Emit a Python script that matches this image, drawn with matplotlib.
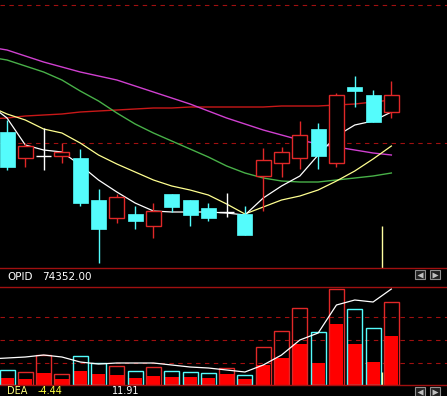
import matplotlib.pyplot as plt
from matplotlib.lines import Line2D
from matplotlib.patches import Rectangle
import numpy as np

#%% Candle data (22 bars)
opens  = [3868, 3855, 3856, 3856, 3855, 3834, 3825, 3827, 3821, 3837, 3834,
          3830, 3828, 3827, 3846, 3852.5, 3855, 3869.5, 3852.5, 3890.5, 3886.5, 3878]
closes = [3850.5, 3861, 3856, 3858, 3832.5, 3819.5, 3835.5, 3823.5, 3828.5, 3830.5, 3826.5,
          3825, 3828, 3816.5, 3854, 3858, 3866.5, 3856, 3886.5, 3888.5, 3873, 3886.5]
highs  = [3874, 3862.5, 3870, 3862.5, 3859.5, 3839.5, 3837, 3831, 3832.5, 3837, 3834,
          3832.5, 3837.5, 3831, 3860, 3860.5, 3873.5, 3872.5, 3887.5, 3896, 3889, 3893.5]
lows   = [3849, 3850.5, 3849, 3852.5, 3831, 3802.5, 3822.5, 3819.5, 3815, 3828, 3821,
          3823.5, 3825.5, 3816.5, 3828.5, 3845.5, 3849.5, 3849.5, 3850.5, 3880.5, 3873, 3875]

# moving averages (first value = bar before the visible window)
ma_white   = [3882, 3875, 3861.5, 3859, 3858, 3851.5, 3844, 3838, 3832.5, 3828.5, 3828, 3828,
              3828, 3827.5, 3826.5, 3835, 3841, 3846, 3856.5, 3866, 3871.5, 3873.5, 3878]
ma_yellow  = [3881, 3877, 3874, 3869.5, 3867.5, 3862.5, 3856.5, 3852, 3848, 3844, 3841, 3839,
              3836.5, 3832, 3827, 3830.5, 3834, 3836, 3839, 3843.5, 3848.5, 3854.5, 3861]
ma_green   = [3905.5, 3904, 3901, 3898, 3894, 3888.5, 3883.5, 3877.5, 3872, 3867.5, 3863.5, 3859.5,
              3855.5, 3851, 3847.5, 3845, 3843.5, 3843, 3843, 3844, 3845, 3846, 3847.5]
ma_magenta = [3910.5, 3909, 3906, 3903, 3900.5, 3898, 3896, 3894, 3891, 3888, 3885, 3882,
              3878.5, 3875, 3872, 3869, 3866.5, 3864, 3862, 3860.5, 3859, 3857.5, 3856.5]
ma_red     = [3874.5, 3875, 3876, 3876.5, 3877, 3878, 3878.5, 3879, 3879.5, 3880, 3880, 3880.5,
              3880.5, 3880.5, 3880.5, 3880.5, 3881, 3881, 3881, 3881.5, 3882, 3883, 3884]

#%% Volume data
vol     = [1500, 1300, 3000, 1100, 2900, 2200, 1900, 1400, 1800, 1400, 1300,
           1200, 1700, 1000, 3800, 5400, 7700, 5300, 9600, 7600, 5700, 8300]
vol_in  = [700, 600, 1200, 600, 1400, 1100, 1000, 700, 900, 800, 800,
           700, 1100, 600, 2000, 2700, 4100, 2200, 6100, 4100, 2300, 4900]
mavol   = [2600, 2700, 2800, 3000, 2800, 2300, 2100, 2200, 2200, 2200, 2000, 1800,
           1700, 1500, 1300, 2000, 3000, 4500, 5200, 8000, 8500, 8300, 9600]

opid = '74352.00'
dea_vals = ['-4.44', '11.91']

#%% Colours
BG = 'black'
UP = '#e02828'
DOWN = '#54fcfc'
GRID = '#a01010'

W, H = 447, 396
fig = plt.figure(figsize=(W / 100, H / 100), dpi=100, facecolor=BG)

def fy(ypix):
    return 1 - ypix / H

ax = fig.add_axes([0, fy(268), 1, 268 / H])
vax = fig.add_axes([0, fy(385), 1, (385 - 287) / H])
for a in (ax, vax):
    a.set_facecolor(BG)
    a.set_axis_off()
    a.set_xlim(-0.383, 24.04)

ax.set_ylim(3800, 3934)
vax.set_ylim(0, 9800)

n = len(opens)
x = np.arange(n)
xm = np.arange(-1, n)
bw = 0.82

#%% grid lines
for yv in (3931.5, 3862.5):
    ax.axhline(yv, color=GRID, lw=0.8, ls=(0, (4, 4)), zorder=0)
for yv in (6800, 4500, 2200):
    vax.axhline(yv, color=GRID, lw=0.8, ls=(0, (4, 4)), zorder=0)

#%% moving averages
ax.plot(xm, ma_red, color='#c81818', lw=1, zorder=1)
ax.plot(xm, ma_magenta, color='#d040d0', lw=1, zorder=1)
ax.plot(xm, ma_green, color='#48b048', lw=1, zorder=1)
ax.plot(xm, ma_yellow, color='#ffff90', lw=0.9, zorder=1)
ax.plot(xm, ma_white, color='white', lw=0.9, zorder=1)

#%% candles
for i in range(n):
    o, c, h, l = opens[i], closes[i], highs[i], lows[i]
    if c > o:
        ax.vlines(i, c, h, color=UP, lw=1, zorder=2)
        ax.vlines(i, l, o, color=UP, lw=1, zorder=2)
        ax.add_patch(Rectangle((i - bw / 2, o), bw, c - o, facecolor=BG,
                               edgecolor=UP, lw=1, zorder=3))
    elif c < o:
        ax.vlines(i, l, h, color=DOWN, lw=1, zorder=2)
        ax.add_patch(Rectangle((i - bw / 2, c), bw, o - c, facecolor=DOWN,
                               edgecolor=DOWN, lw=0.5, zorder=3))
    else:
        ax.vlines(i, l, h, color='white', lw=1, zorder=2)
        ax.hlines(o, i - bw / 2, i + bw / 2, color='white', lw=1, zorder=2)

# cursor line
ax.vlines(20.5, 3800, 3821, color='#ffffa0', lw=1, zorder=4)
vax.vlines(20.5, 0, 1300, color='#ffffa0', lw=1, zorder=4)

#%% volume
for i in range(n):
    col = UP if closes[i] >= opens[i] else DOWN
    vax.add_patch(Rectangle((i - bw / 2, 0), bw, vol[i], facecolor='none',
                            edgecolor=col, lw=1, zorder=2))
    vax.add_patch(Rectangle((i - bw / 2 + 0.03, 0), bw - 0.06, vol_in[i],
                            facecolor='#ff0000', edgecolor='none', zorder=1))
vax.plot(xm, mavol, color='white', lw=0.9, zorder=3)

#%% panel borders
for yp in (268, 287, 385):
    fig.add_artist(Line2D([0, 1], [fy(yp), fy(yp)], color=GRID, lw=1,
                          transform=fig.transFigure))

#%% texts
fig.text(7 / W, fy(277), 'OPID', color='white', fontsize=7.5, va='center')
fig.text(42 / W, fy(277), opid, color='white', fontsize=7.5, va='center')
fig.text(7 / W, fy(390.5), 'DEA', color='#ffff80', fontsize=7, va='center')
fig.text(38 / W, fy(390.5), dea_vals[0], color='#ffff40', fontsize=7, va='center')
fig.text(112 / W, fy(390.5), dea_vals[1], color='white', fontsize=7, va='center')

#%% scroll buttons
for ytop in (270, 387):
    for xl, mk in ((415, '<'), (430, '>')):
        fig.add_artist(Rectangle((xl / W, fy(ytop + 9)), 10 / W, 9 / H,
                                 facecolor='#202020', edgecolor='#909090', lw=0.8,
                                 transform=fig.transFigure))
        fig.add_artist(Line2D([(xl + 5) / W], [fy(ytop + 4.5)], marker=mk, ms=4,
                              color='#c0c0c0', mec='none', transform=fig.transFigure))

fig.savefig('out.png', dpi=100, facecolor=BG)
